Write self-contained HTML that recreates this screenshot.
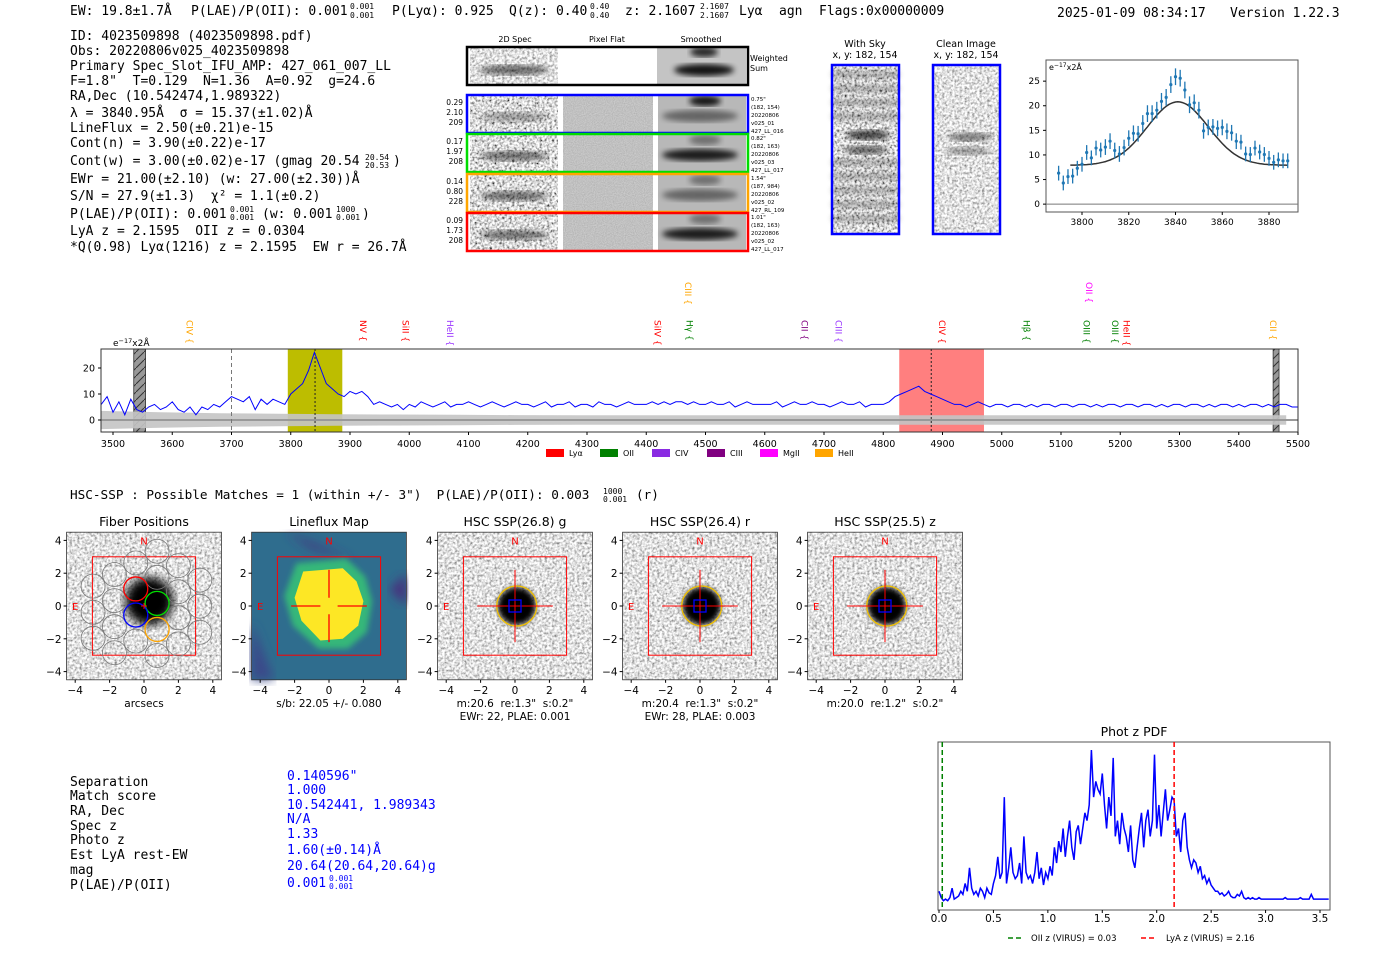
<!DOCTYPE html>
<html><head><meta charset="utf-8">
<style>
html,body{margin:0;padding:0;background:#fff;}
svg{display:block;}
text{white-space:pre;}
.m{font-family:"DejaVu Sans Mono","Liberation Mono",monospace;font-size:13px;fill:#000;}
.s{font-family:"DejaVu Sans","Liberation Sans",sans-serif;}
</style></head>
<body>
<svg id="root" xml:space="preserve" width="1400" height="953" viewBox="0 0 1400 953" xmlns="http://www.w3.org/2000/svg">
<defs>
<filter id="nz" x="0" y="0" width="100%" height="100%"><feTurbulence type="fractalNoise" baseFrequency="0.4" numOctaves="2" seed="4"/><feColorMatrix type="matrix" values="1.6 0 0 0 -0.05  1.6 0 0 0 -0.05  1.6 0 0 0 -0.05  0 0 0 0 1"/></filter>
<filter id="nz2" x="0" y="0" width="100%" height="100%"><feTurbulence type="fractalNoise" baseFrequency="0.4" numOctaves="2" seed="9"/><feColorMatrix type="matrix" values="2.0 0 0 0 -0.3  2.0 0 0 0 -0.3  2.0 0 0 0 -0.3  0 0 0 0 1"/></filter>
<filter id="nzf" x="0" y="0" width="100%" height="100%"><feTurbulence type="fractalNoise" baseFrequency="0.9" numOctaves="1" seed="2"/><feColorMatrix type="matrix" values="0.3 0 0 0 0.38  0.3 0 0 0 0.38  0.3 0 0 0 0.38  0 0 0 0 1"/></filter>
<filter id="bl3"><feGaussianBlur stdDeviation="3"/></filter>
<filter id="bl5"><feGaussianBlur stdDeviation="5"/></filter>
<filter id="bl8"><feGaussianBlur stdDeviation="8"/></filter>
<pattern id="hatch" width="8" height="8" patternUnits="userSpaceOnUse"><rect width="8" height="8" fill="#999"/><path d="M0,8 L8,0" stroke="#333" stroke-width="1"/></pattern>
</defs>

<!-- header -->
<g class="m" style="font-size:13px">
<text x="70" y="15">EW: 19.8±1.7Å</text>
<text x="191" y="15">P(LAE)/P(OII): 0.001</text>
<text x="350" y="9" style="font-size:8px">0.001</text><text x="350" y="18" style="font-size:8px">0.001</text>
<text x="392" y="15">P(Lyα): 0.925</text>
<text x="509" y="15">Q(z): 0.40</text>
<text x="590" y="9" style="font-size:8px">0.40</text><text x="590" y="18" style="font-size:8px">0.40</text>
<text x="625" y="15">z: 2.1607</text>
<text x="700" y="9" style="font-size:8px">2.1607</text><text x="700" y="18" style="font-size:8px">2.1607</text>
<text x="739" y="15">Lyα</text><text x="779" y="15">agn</text><text x="819" y="15">Flags:0x00000009</text>
<text x="1057" y="17">2025-01-09 08:34:17</text><text x="1230" y="17">Version 1.22.3</text>
</g>

<g class="m">
<text x="70" y="40">ID: 4023509898 (4023509898.pdf)</text>
<text x="70" y="55">Obs: 20220806v025_4023509898</text>
<text x="70" y="70">Primary Spec_Slot_IFU_AMP: 427_061_007_LL</text>
<text x="70" y="85">F=1.8"  T=0.129  N=1.36  A=0.92  g=24.6</text>
<text x="70" y="100">RA,Dec (10.542474,1.989322)</text>
<text x="70" y="117">λ = 3840.95Å  σ = 15.37(±1.02)Å</text>
<text x="70" y="132">LineFlux = 2.50(±0.21)e-15</text>
<text x="70" y="147">Cont(n) = 3.90(±0.22)e-17</text>
<text x="70" y="165">Cont(w) = 3.00(±0.02)e-17 (gmag 20.54</text><text x="365" y="160" style="font-size:8px">20.54</text><text x="365" y="168" style="font-size:8px">20.53</text><text x="393" y="165">)</text>
<text x="70" y="183">EWr = 21.00(±2.10) (w: 27.00(±2.30))Å</text>
<text x="70" y="200">S/N = 27.9(±1.3)  χ² = 1.1(±0.2)</text>
<text x="70" y="218">P(LAE)/P(OII): 0.001</text><text x="230" y="212" style="font-size:8px">0.001</text><text x="230" y="220" style="font-size:8px">0.001</text><text x="262" y="218">(w: 0.001</text><text x="336" y="212" style="font-size:8px">1000</text><text x="336" y="220" style="font-size:8px">0.001</text><text x="362" y="218">)</text>
<text x="70" y="235">LyA z = 2.1595  OII z = 0.0304</text>
<text x="70" y="251">*Q(0.98) Lyα(1216) z = 2.1595  EW r = 26.7Å</text>
</g>

<!-- 2D spectra -->
<g class="s" style="font-size:8px">
<text x="515" y="42" text-anchor="middle">2D Spec</text><text x="607" y="42" text-anchor="middle">Pixel Flat</text><text x="701" y="42" text-anchor="middle">Smoothed</text>
<text x="750" y="61">Weighted</text><text x="750" y="71">Sum</text>
</g>
<g id="spec2d"></g>

<!-- with sky / clean -->
<g>
<text class="s" x="865" y="47" text-anchor="middle" style="font-size:9.5px">With Sky</text>
<text class="s" x="865" y="58" text-anchor="middle" style="font-size:9.5px">x, y: 182, 154</text>
<rect x="832" y="65" width="67" height="169" filter="url(#nz2)"/>
<g fill="#000" opacity="0.35" filter="url(#bl3)"><rect x="832" y="72" width="67" height="5"/><rect x="832" y="86" width="67" height="5"/><rect x="832" y="100" width="67" height="5"/><rect x="832" y="114" width="67" height="5"/><rect x="832" y="160" width="67" height="5"/><rect x="832" y="174" width="67" height="5"/><rect x="832" y="188" width="67" height="5"/><rect x="832" y="202" width="67" height="5"/><rect x="832" y="216" width="67" height="5"/></g>
<ellipse cx="868" cy="135" rx="22" ry="5" fill="#000" opacity="0.7" filter="url(#bl3)"/>
<ellipse cx="866" cy="150" rx="22" ry="4" fill="#000" opacity="0.6" filter="url(#bl3)"/>
<rect x="832" y="65" width="67" height="169" fill="none" stroke="#0000ff" stroke-width="2.5"/>
</g>
<g>
<text class="s" x="966" y="47" text-anchor="middle" style="font-size:9.5px">Clean Image</text>
<text class="s" x="966" y="58" text-anchor="middle" style="font-size:9.5px">x, y: 182, 154</text>
<rect x="933" y="65" width="67" height="169" filter="url(#nz)"/>
<ellipse cx="970" cy="137" rx="22" ry="4" fill="#000" opacity="0.5" filter="url(#bl3)"/>
<ellipse cx="968" cy="151" rx="22" ry="4" fill="#000" opacity="0.35" filter="url(#bl3)"/>
<rect x="933" y="65" width="67" height="169" fill="none" stroke="#0000ff" stroke-width="2.5"/>
</g>

<g id="fitplot"></g>
<g id="mainspec"></g>

<text class="m" x="70" y="499" style="font-size:12.7px">HSC-SSP : Possible Matches = 1 (within +/- 3")  P(LAE)/P(OII): 0.003</text>
<text class="m" x="603" y="494" style="font-size:8px">1000</text>
<text class="m" x="603" y="502" style="font-size:8px">0.001</text>
<text class="m" x="636" y="499" style="font-size:12.7px">(r)</text>

<g id="cutouts"></g>

<g class="m">
<text x="70" y="786">Separation</text><text x="70" y="800">Match score</text><text x="70" y="815">RA, Dec</text><text x="70" y="830">Spec z</text><text x="70" y="844">Photo z</text><text x="70" y="859">Est LyA rest-EW</text><text x="70" y="874">mag</text><text x="70" y="889">P(LAE)/P(OII)</text>
</g>
<g class="m" style="fill:#0000ff">
<text x="287" y="780">0.140596"</text><text x="287" y="794">1.000</text><text x="287" y="809">10.542441, 1.989343</text><text x="287" y="823">N/A</text><text x="287" y="838">1.33</text><text x="287" y="854">1.60(±0.14)Å</text><text x="287" y="870">20.64(20.64,20.64)g</text><text x="287" y="887">0.001</text><text x="329" y="881" style="font-size:8px">0.001</text><text x="329" y="889" style="font-size:8px">0.001</text>
</g>

<g id="pdfplot"></g>
</svg>

<script>
const NS='http://www.w3.org/2000/svg';
function mk(tag, attrs, parent){const e=document.createElementNS(NS,tag);for(const k in attrs)e.setAttribute(k,attrs[k]);parent.appendChild(e);return e;}
function txt(s, attrs, parent){const e=mk('text',attrs,parent);e.textContent=s;return e;}

/* ---------- fit plot data ---------- */
const fitWave=[3790,3792,3794,3796,3798,3800,3802,3804,3806,3808,3810,3812,3814,3816,3818,3820,3822,3824,3826,3828,3830,3832,3834,3836,3838,3840,3842,3844,3846,3848,3850,3852,3854,3856,3858,3860,3862,3864,3866,3868,3870,3872,3874,3876,3878,3880,3882,3884,3886,3888];
const fitFlux=[6.3,4.3,5.6,5.7,7.3,8.1,10.5,9.4,11.4,11.0,11.6,12.8,10.9,10.2,11.5,13.4,14.4,14.3,16.4,18.4,18.4,19.1,20.9,21.7,24.3,25.9,25.6,23.2,20.2,20.6,19.1,14.9,15.6,15.7,15.4,15.6,14.8,14.5,12.8,12.6,10.2,10.1,11.4,10.6,10.1,9.3,8.5,9.0,8.8,8.8];
const fitErr=[1.5,1.5,1.5,1.5,1.5,1.5,1.5,1.5,1.5,1.5,1.6,1.6,1.6,1.6,1.6,1.6,1.6,1.6,1.7,1.7,1.7,1.7,1.7,1.7,1.7,1.7,1.7,1.7,1.7,1.7,1.7,1.6,1.6,1.6,1.6,1.6,1.6,1.6,1.6,1.5,1.5,1.5,1.5,1.5,1.5,1.5,1.5,1.5,1.5,1.5];
const fitModel=[7.9,12.9,3841,13];   // continuum, amplitude, center, sigma
const fitXTicks=[3800,3820,3840,3860,3880];
const fitYTicks=[0,5,10,15,20,25];

/* ---------- main spectrum data (10 Å steps from 3480) ---------- */
const specStart=3480, specStep=10;
const specFlux=[6,9,3,7,2,8,4,3,
5,6,4,5,7,4,3,5,2,5,4,6,5,7,
9,8,7,9,4,8,6,8,7,6,
10,12,14,19,26,20,14,12,10,9,
11,10,11,9,6,7,6,5,6,4,
6,5,7,6,5,6,7,5,6,6,7,6,5,6,7,6,5,6,7,6,6,5,6,7,5,6,6,7,5,6,6,5,7,6,6,5,6,7,6,6,6,7,6,7,6,7,7,6,7,6,
6,7,6,6,7,5,6,7,6,6,6,6,7,5,6,7,6,6,7,6,6,5,6,7,6,6,7,5,6,6,
6,7,9,10,11,12,13,11,10,9,8,7,6,6,5,6,7,6,5,6,
6,5,6,6,5,6,5,6,6,5,6,6,5,6,6,5,6,5,6,6,5,6,6,5,6,6,5,6,5,6,6,5,6,6,5,6,5,6,6,5,6,5,6,6,5,6,5,6,6,5,5];
const errStart=3480, errStep=100;
const specErr=[3.5,3,2.6,2.4,2.2,2.1,2,1.9,1.8,1.8,1.8,1.8,1.8,1.8,1.8,1.8,1.8,1.8,1.8,1.8,1.8];
const specXTicks=[3500,3600,3700,3800,3900,4000,4100,4200,4300,4400,4500,4600,4700,4800,4900,5000,5100,5200,5300,5400,5500];
const specYTicks=[0,10,20];
const lineNames=['CIV','NV','SiII','HeII','SiIV','CIII','Hγ','CII','CIII','CIV','Hβ','OIII','OII','OIII','HeII','CII'];
const lineWaves=[3628,3921,3993,4068,4418,4470,4472,4666,4724,4898,5041,5142,5146,5190,5210,5457];
const lineColors=['#ffa500','#ff0000','#ff0000','#9933ff','#ff0000','#ffa500','#008000','#800080','#9933ff','#ff0000','#008000','#008000','#ff00ff','#008000','#ff0000','#ffa500'];
const lineRaised=[0,0,0,0,0,1,0,0,0,0,0,0,1,0,0,0];

/* ---------- photo-z PDF data (z step 0.02) ---------- */
const pdfStep=0.02;
const pdfVals=[10,6,4,5,4,6,12,5,6,7,10,8,15,10,25,12,8,10,7,12,10,6,12,9,8,
15,20,32,18,22,70,15,25,38,22,18,20,28,15,45,22,18,20,15,22,35,18,25,14,22,
18,26,20,38,28,42,35,50,32,45,55,38,30,48,52,40,50,60,55,65,100,70,80,75,72,
85,65,50,70,58,95,45,55,40,60,50,45,35,52,30,25,38,50,60,38,55,62,45,55,97,
50,65,45,60,75,55,62,70,68,45,50,35,55,60,38,30,25,30,28,22,26,18,20,15,18,
14,12,10,10,8,9,7,8,10,7,6,6,8,7,10,6,5,6,5,6,5,5,6,5,5,
5,5,5,5,5,5,5,5,5,6,5,5,5,5,5,5,6,5,5,5,5,8,5,5,5,5,5,5,5,5];
const pdfXTicks=[0.0,0.5,1.0,1.5,2.0,2.5,3.0,3.5];
const pdfMarkers=[0.03,2.16];

/* ===== 2D spec panels ===== */
(function(){
  const g=document.getElementById('spec2d');
  const rows=[{y:95,c:'#0000ff',n:['0.29','2.10','209'],r:['0.75"','(182, 154)','20220806','v025_01','427_LL_016']},
              {y:134,c:'#00dd00',n:['0.17','1.97','208'],r:['0.82"','(182, 163)','20220806','v025_03','427_LL_017']},
              {y:174,c:'#ffa500',n:['0.14','0.80','228'],r:['1.54"','(187, 984)','20220806','v025_02','427_RL_109']},
              {y:213,c:'#ff0000',n:['0.09','1.73','208'],r:['1.01"','(182, 163)','20220806','v025_02','427_LL_017']}];
  let e=mk('rect',{x:470,y:48,width:88,height:36,filter:'url(#nz)'},g);
  
  
  mk('ellipse',{cx:514,cy:70,rx:35,ry:5,fill:'#000',opacity:0.55,filter:'url(#bl3)'},g);
  e=mk('rect',{x:657,y:48,width:89,height:36,fill:'#c4c4c4'},g);
  
  
  mk('ellipse',{cx:704,cy:70,rx:30,ry:6,fill:'#000',opacity:0.9,filter:'url(#bl3)'},g);
  mk('ellipse',{cx:704,cy:52,rx:14,ry:5,fill:'#000',opacity:0.8,filter:'url(#bl3)'},g);
  e=mk('rect',{x:467,y:47,width:281,height:38,fill:'none',stroke:'#000','stroke-width':2.5},g);
  
  
  rows.forEach((r,i)=>{
    const y=r.y;
    let a=mk('rect',{x:470,y:y+1,width:88,height:36,filter:'url(#nz2)'},g);
    
    
    mk('ellipse',{cx:514,cy:y+22,rx:34,ry:5,fill:'#000',opacity:i==0?0.3:0.5,filter:'url(#bl3)'},g);
    a=mk('rect',{x:563,y:y+1,width:90,height:36,filter:'url(#nzf)'},g);
    
    
    a=mk('rect',{x:658,y:y+1,width:88,height:36,fill:'#b8b8b8'},g);
    
    
    mk('ellipse',{cx:700,cy:y+21,rx:38,ry:6,fill:'#000',opacity:i==1||i==3?0.85:0.45,filter:'url(#bl3)'},g);
    mk('ellipse',{cx:705,cy:y+6,rx:16,ry:5,fill:'#000',opacity:i==0?0.9:0.4,filter:'url(#bl3)'},g);
    a=mk('rect',{x:467,y:y,width:281,height:38,fill:'none',stroke:r.c,'stroke-width':2.5},g);
    
    
    r.n.forEach((s,k)=>{const t=txt(s,{x:463,y:y+10+k*10,'text-anchor':'end',class:'s','font-size':'7.5'},g);
      
      });
    r.r.forEach((s,k)=>{const t=txt(s,{x:751,y:y+6+k*8,class:'s','font-size':'5.5'},g);
      
      });
  });
})();

/* ===== fit plot ===== */
(function(){
  const g=document.getElementById('fitplot');
  const L=1046,R=1298,T=60,B=212;
  const xf=w=>L+(w-3784.6)*(R-L)/(3892.4-3784.6);
  const yf=v=>B-(v+1.6)*(B-T)/(29.3+1.6);
  let e=mk('rect',{x:L,y:T,width:R-L,height:B-T,fill:'#fff',stroke:'#555','stroke-width':1},g);
  
  
  e=mk('line',{x1:L,x2:R,y1:yf(0),y2:yf(0),stroke:'#777','stroke-width':1},g);
  
  
  fitXTicks.forEach(t=>{mk('line',{x1:xf(t),x2:xf(t),y1:B,y2:B+3,stroke:'#000'},g);
    const s=txt(String(t),{x:xf(t),y:B+13,'text-anchor':'middle',class:'s','font-size':'9'},g);
    
    });
  fitYTicks.forEach(t=>{mk('line',{x1:L-3,x2:L,y1:yf(t),y2:yf(t),stroke:'#000'},g);
    const s=txt(String(t),{x:L-6,y:yf(t)+3,'text-anchor':'end',class:'s','font-size':'9'},g);
    
    });
  const u=txt('e',{x:L+3,y:T+10,class:'s','font-size':'8'},g);
  
  
  const ts=mk('tspan',{dy:-3,'font-size':'6'},u);ts.textContent='−17';
  const ts2=mk('tspan',{dy:3},u);ts2.textContent='x2Å';
  let d='';
  for(let w=3795;w<=3888;w+=1){const v=fitModel[0]+fitModel[1]*Math.exp(-Math.pow(w-fitModel[2],2)/(2*fitModel[3]*fitModel[3]));d+=(d?'L':'M')+xf(w).toFixed(1)+','+yf(v).toFixed(1);}
  e=mk('path',{d:d,fill:'none',stroke:'#333','stroke-width':1.5},g);
  
  
  fitWave.forEach((w,i)=>{
    const b=mk('line',{x1:xf(w),x2:xf(w),y1:yf(fitFlux[i]-fitErr[i]),y2:yf(fitFlux[i]+fitErr[i]),stroke:'#1f77b4','stroke-width':1.3},g);
    
    
    const p=mk('circle',{cx:xf(w),cy:yf(fitFlux[i]),r:1.6,fill:'#1f77b4'},g);
    
    
  });
})();

/* ===== main spectrum ===== */
(function(){
  const g=document.getElementById('mainspec');
  const L=101,R=1298,T=349,B=432;
  const sx=w=>113+(w-3500)*(1298-113)/2000;
  const y=v=>420-v*2.6;
  let e=mk('rect',{x:L,y:T,width:R-L,height:B-T,fill:'#fff'},g);
  
  
  e=mk('rect',{x:sx(3795),y:T,width:sx(3887)-sx(3795),height:B-T,fill:'#bdbd00'},g);
  
  
  e=mk('rect',{x:sx(4827),y:T,width:sx(4970)-sx(4827),height:B-T,fill:'#ff7f7f'},g);
  
  
  e=mk('rect',{x:sx(3535),y:T,width:sx(3555)-sx(3535),height:B-T,fill:'url(#hatch)',stroke:'#333','stroke-width':0.8},g);
  
  
  e=mk('rect',{x:sx(5458),y:T,width:sx(5468)-sx(5458),height:B-T,fill:'url(#hatch)',stroke:'#333','stroke-width':0.8},g);
  
  
  let up='',dn='';
  specErr.forEach((v,i)=>{const w=errStart+i*errStep;up+=(up?'L':'M')+Math.max(L,sx(Math.min(w,5500))).toFixed(1)+','+y(v).toFixed(1);});
  for(let i=specErr.length-1;i>=0;i--){const w=errStart+i*errStep;dn+='L'+Math.max(L,sx(Math.min(w,5500))).toFixed(1)+','+y(-specErr[i]).toFixed(1);}
  e=mk('path',{d:up+dn+'Z',fill:'#c4c4c4',opacity:0.9},g);
  
  
  e=mk('line',{x1:L,x2:R,y1:y(0),y2:y(0),stroke:'#999','stroke-width':2},g);
  
  
  e=mk('line',{x1:sx(3700),x2:sx(3700),y1:T,y2:B,stroke:'#777','stroke-dasharray':'4,3'},g);
  
  
  [3841,4881].forEach(w=>{const m=mk('line',{x1:sx(w),x2:sx(w),y1:T,y2:B,stroke:'#222','stroke-dasharray':'2,2'},g);
    
    });
  let d='';
  specFlux.forEach((v,i)=>{const w=specStart+i*specStep;const xx=Math.max(L,sx(w));d+=(d?'L':'M')+xx.toFixed(1)+','+y(v).toFixed(1);});
  e=mk('path',{d:d,fill:'none',stroke:'#0000ff','stroke-width':1},g);
  
  
  e=mk('rect',{x:L,y:T,width:R-L,height:B-T,fill:'none',stroke:'#333','stroke-width':1},g);
  
  
  specXTicks.forEach(t=>{mk('line',{x1:sx(t),x2:sx(t),y1:B,y2:B+3,stroke:'#000'},g);
    const s=txt(String(t),{x:sx(t),y:B+15,'text-anchor':'middle',class:'s','font-size':'9.5'},g);
    
    });
  specYTicks.forEach(t=>{mk('line',{x1:L-3,x2:L,y1:y(t),y2:y(t),stroke:'#000'},g);
    const s=txt(String(t),{x:L-6,y:y(t)+3.5,'text-anchor':'end',class:'s','font-size':'9.5'},g);
    
    });
  const u=txt('e',{x:113,y:346,class:'s','font-size':'9'},g);
  
  
  const a1=mk('tspan',{dy:-3,'font-size':'6.5'},u);a1.textContent='−17';
  const a2=mk('tspan',{dy:3},u);a2.textContent='x2Å';
  lineNames.forEach((n,i)=>{const xx=sx(lineWaves[i]);const yy=lineRaised[i]?282:320;
    const t=txt(n+' {',{x:xx,y:yy,transform:`rotate(90 ${xx} ${yy})`,fill:lineColors[i],class:'s','font-size':'9','dominant-baseline':'middle'},g);
    
    });
  const leg=[['Lyα','#ff0000',546],['OII','#008000',600],['CIV','#8a2be2',652],['CIII','#800080',707],['MgII','#ff00ff',760],['HeII','#ffa500',815]];
  leg.forEach(l=>{const r=mk('rect',{x:l[2],y:449,width:18,height:8,fill:l[1]},g);
    
    
    const t=txt(l[0],{x:l[2]+23,y:456,class:'s','font-size':'8'},g);
    
    });
})();

/* ===== cutouts ===== */
(function(){
  const g=document.getElementById('cutouts');
  const cxs=[144,329,515,700,885], cy=606, SX=17.2, SY=16.4;
  const titles=['Fiber Positions','Lineflux Map','HSC SSP(26.8) g','HSC SSP(26.4) r','HSC SSP(25.5) z'];
  const subs=[['arcsecs'],['s/b: 22.05 +/- 0.080'],['m:20.6  re:1.3"  s:0.2"','EWr: 22, PLAE: 0.001'],['m:20.4  re:1.3"  s:0.2"','EWr: 28, PLAE: 0.003'],['m:20.0  re:1.2"  s:0.2"']];
  cxs.forEach((cx,i)=>{
    const px=a=>cx+a*SX, py=b=>cy-b*SY;
    const pg=mk('g',{},g);
    
    
    const x0=px(-4.5),y0=py(4.5),w=9*SX,h=9*SY;
    if(i==1){
      mk('rect',{x:x0,y:y0,width:w,height:h,fill:'#2f6d8e'},pg);
      mk('path',{d:`M${px(-2.5)},${py(4.5)} L${px(1.5)},${py(2.8)} L${px(-1)},${py(3.5)} Z`,fill:'#46317e',filter:'url(#bl5)'},pg);
      mk('path',{d:`M${px(-4.5)},${py(-1)} L${px(-3.2)},${py(-4.5)} L${px(-4.5)},${py(-4.5)} Z`,fill:'#3b4a8a',filter:'url(#bl5)'},pg);
      mk('path',{d:`M${px(3.5)},${py(1)} L${px(4.5)},${py(0)} L${px(4.5)},${py(2)} Z`,fill:'#46317e',filter:'url(#bl5)'},pg);
      mk('polygon',{points:[[-1.9,2.6],[1.0,2.9],[2.1,1.8],[2.5,0.3],[2.2,-1.6],[1.1,-2.6],[-0.6,-2.6],[-2.1,-1.2],[-2.6,0.6]].map(p=>px(p[0])+','+py(p[1])).join(' '),fill:'#35b779',filter:'url(#bl3)'},pg);
      const poly=mk('polygon',{points:[[-1.5,2.1],[0.8,2.3],[1.6,1.5],[2.0,0.3],[1.7,-1.2],[0.8,-2.0],[-0.5,-2.1],[-1.6,-0.9],[-2.0,0.5]].map(p=>px(p[0])+','+py(p[1])).join(' '),fill:'#fde725'},pg);
      
      
    } else {
      mk('rect',{x:x0,y:y0,width:w,height:h,filter:'url(#nz)'},pg);
      if(i==0){
        mk('ellipse',{cx:px(0.3),cy:py(0.3),rx:24,ry:24,fill:'#000',filter:'url(#bl5)'},pg);
      } else {
        mk('circle',{cx:px(0.1),cy:py(0),r:19,fill:'#000',filter:'url(#bl3)'},pg);
      }
    }
    const rb=mk('rect',{x:px(-3),y:py(3),width:6*SX,height:6*SY,fill:'none',stroke:'#ff0000','stroke-width':1},pg);
    
    
    if(i==0){
      const red=[-0.48,1.04],v1=[1.24,-0.88],v2=[0,-1.59];
      for(let a=-3;a<=3;a++)for(let b=-3;b<=3;b++){const X=red[0]+a*v1[0],Y=red[1]+a*v1[1]+b*v2[1];
        if(X*X+Y*Y<3.7*3.7 && Math.abs(X)<4 && Math.abs(Y)<4){const c=mk('circle',{cx:px(X),cy:py(Y),r:12,fill:'none',stroke:'#777','stroke-width':0.8},pg);
          
          }}
      [[-0.48,1.04,'#ff0000'],[0.76,0.16,'#00dd00'],[-0.48,-0.55,'#0000ff'],[0.76,-1.43,'#ffa500']].forEach(f=>{
        const c=mk('circle',{cx:px(f[0]),cy:py(f[1]),r:12,fill:'none',stroke:f[2],'stroke-width':1.3},pg);
        
        });
      mk('path',{d:`M${px(0)-3},${py(0)} h6 M${px(0)},${py(0)-3} v6`,stroke:'#ff0000','stroke-width':1},pg);
    } else if(i==1){
      mk('path',{d:`M${px(-2.2)},${py(0)} H${px(-0.5)} M${px(0.5)},${py(0)} H${px(2.2)} M${px(0)},${py(2.2)} V${py(0.5)} M${px(0)},${py(-0.5)} V${py(-2.2)}`,stroke:'#ff0000','stroke-width':1.3},pg);
    } else {
      const ec=mk('ellipse',{cx:px(0.1),cy:py(0),rx:20,ry:20,fill:'none',stroke:'#f0c000','stroke-width':1.3},pg);
      
      
      mk('path',{d:`M${px(-2.2)},${py(0)} H${px(2.2)} M${px(0)},${py(2.2)} V${py(-2.2)}`,stroke:'#ff0000','stroke-width':1},pg);
      mk('rect',{x:px(0)-6,y:py(0)-6,width:12,height:12,fill:'none',stroke:'#0000ff','stroke-width':1.3},pg);
    }
    txt('N',{x:px(0),y:py(4)+4,'text-anchor':'middle',fill:'#ff0000',class:'s','font-size':'10'},pg);
    txt('E',{x:px(-4),y:py(0)+4,'text-anchor':'middle',fill:'#ff0000',class:'s','font-size':'10'},pg);
    mk('rect',{x:x0,y:y0,width:w,height:h,fill:'none',stroke:'#333','stroke-width':0.8},pg);
    const tt=txt(titles[i],{x:cx,y:526,'text-anchor':'middle',class:'s','font-size':'12.5'},pg);
    
    
    [-4,-2,0,2,4].forEach(t=>{
      mk('line',{x1:px(t),x2:px(t),y1:y0+h,y2:y0+h+3,stroke:'#000'},pg);
      txt(t<0?'−'+(-t):String(t),{x:px(t),y:y0+h+14,'text-anchor':'middle',class:'s','font-size':'10.5'},pg);
      mk('line',{x1:x0-3,x2:x0,y1:py(t),y2:py(t),stroke:'#000'},pg);
      txt(t<0?'−'+(-t):String(t),{x:x0-5,y:py(t)+4,'text-anchor':'end',class:'s','font-size':'10.5'},pg);
    });
    subs[i].forEach((s,k)=>{const st=txt(s,{x:cx,y:707+k*13,'text-anchor':'middle',class:'s','font-size':'10.5'},pg);
      
      });
  });
})();

/* ===== photo-z pdf ===== */
(function(){
  const g=document.getElementById('pdfplot');
  const L=938,R=1330,T=742,B=910;
  const xp=z=>939+z*(1320-939)/3.5;
  const yp=v=>907-v*1.57;
  const tl=txt('Phot z PDF',{x:(L+R)/2,y:736,'text-anchor':'middle',class:'s','font-size':'12.5'},g);
  
  
  let e=mk('rect',{x:L,y:T,width:R-L,height:B-T,fill:'#fff',stroke:'#555','stroke-width':1},g);
  
  
  let d='';
  pdfVals.forEach((v,i)=>{d+=(d?'L':'M')+xp(i*pdfStep).toFixed(1)+','+yp(v).toFixed(1);});
  e=mk('path',{d:d,fill:'none',stroke:'#0000ff','stroke-width':1.5},g);
  
  
  e=mk('line',{x1:xp(pdfMarkers[0]),x2:xp(pdfMarkers[0]),y1:T,y2:B,stroke:'#008000','stroke-width':1.5,'stroke-dasharray':'5,3'},g);
  
  
  e=mk('line',{x1:xp(pdfMarkers[1]),x2:xp(pdfMarkers[1]),y1:T,y2:B,stroke:'#ff0000','stroke-width':1.5,'stroke-dasharray':'5,3'},g);
  
  
  pdfXTicks.forEach(t=>{mk('line',{x1:xp(t),x2:xp(t),y1:B,y2:B+3,stroke:'#000'},g);
    const s=txt(t.toFixed(1),{x:xp(t),y:B+12,'text-anchor':'middle',class:'s','font-size':'10.5'},g);
    
    });
  mk('line',{x1:1008,x2:1024,y1:938,y2:938,stroke:'#008000','stroke-width':1.5,'stroke-dasharray':'5,3'},g);
  let t=txt('OII z (VIRUS) = 0.03',{x:1031,y:941,class:'s','font-size':'8.5'},g);
  
  
  mk('line',{x1:1141,x2:1157,y1:938,y2:938,stroke:'#ff0000','stroke-width':1.5,'stroke-dasharray':'5,3'},g);
  t=txt('LyA z (VIRUS) = 2.16',{x:1166,y:941,class:'s','font-size':'8.5'},g);
  
  
})();
</script>
</body></html>
